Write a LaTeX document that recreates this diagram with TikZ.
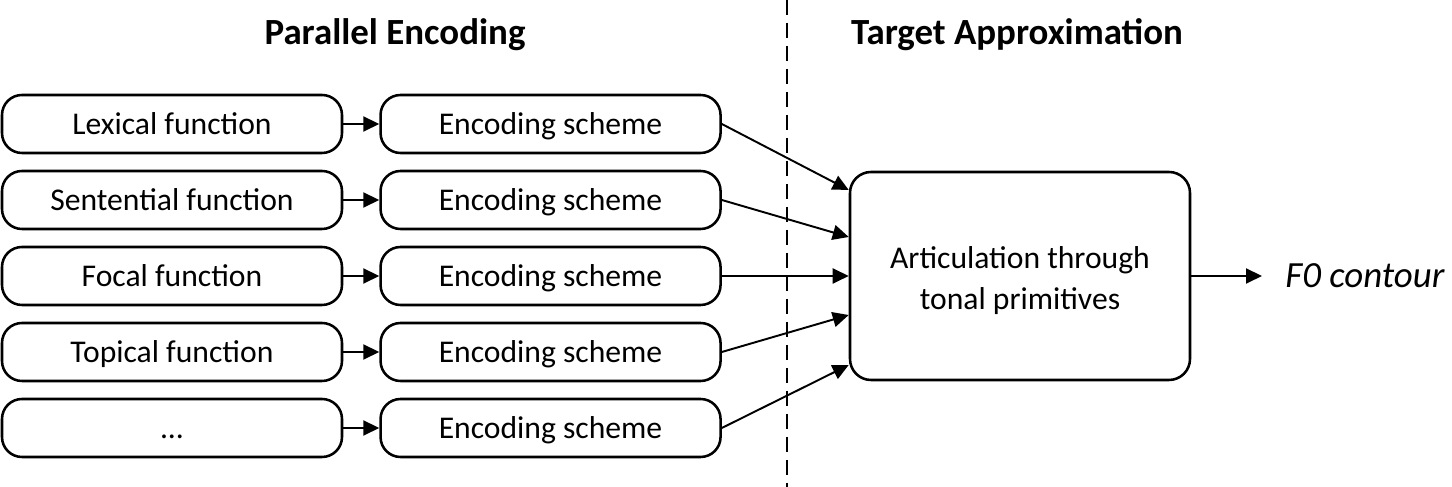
\documentclass[tikz,border=0pt]{standalone}
\usepackage{fontspec}
\setmainfont{Carlito}
\usepackage{tikz}
\usetikzlibrary{
  arrows.meta,
  positioning,
  calc
}
\tikzset{
  funcbox/.style={
    draw=black,
    fill=white,
    rounded corners=0.4cm,
    line width=1.45pt,
    align=center,
    font=\fontsize{18}{22}\selectfont,
    minimum width=6.8cm,
    minimum height=1.16cm,
    text height=0.44cm,
    text depth=0pt,
    inner sep=0pt
  },
  artbox/.style={
    draw=black,
    fill=white,
    rounded corners=0.42cm,
    line width=1.45pt,
    align=center,
    font=\fontsize{18}{22.8}\selectfont,
    minimum width=6.8cm,
    minimum height=4.16cm,
    inner sep=0pt
  },
  flowarrow/.style={
    -{Triangle[length=0.32cm,width=0.3cm]},
    line width=1.1pt,
    black
  },
  headtitle/.style={font=\fontsize{21}{25}\selectfont\bfseries}
}

\begin{document}
\begin{tikzpicture}
  \useasboundingbox (0,0) rectangle (29.04,9.74);

  % Titel
  \node[headtitle] (ttlpar) at (7.9,9.05) {Parallel Encoding};
  \node[headtitle] (ttltar) at (20.34,9.05) {Target Approximation};

  % Trennlinie
  \coordinate (divtop) at (15.74,9.74);
  \coordinate (divbot) at (15.74,0);
  \draw[line width=1pt, dash pattern=on 0.3cm off 0.16cm] (divtop) -- (divbot);

  % Funktionen
  \node[funcbox] (lex) at (3.44,7.26) {Lexical function};
  \node[funcbox] (sen) at (3.44,5.74) {Sentential function};
  \node[funcbox] (foc) at (3.44,4.22) {Focal function};
  \node[funcbox] (top) at (3.44,2.70) {Topical function};
  \node[funcbox] (etc) at (3.44,1.18) {...};

  % Kodierung
  \foreach \n in {lex,sen,foc,top,etc} {
    \node[funcbox, right=0.72cm of \n] (enc\n) {Encoding scheme};
    \draw[flowarrow] (\n) -- (enc\n);
  }

  \node[artbox] (art) at (20.4,4.22)
    {\raisebox{-0.1cm}[\height][\depth]{\begin{tabular}{@{}c@{}}Articulation through\\tonal primitives\end{tabular}}};

  \draw[flowarrow] (enclex.east) -- ([yshift=1.72cm]art.west);
  \draw[flowarrow] (encsen.east) -- ([yshift=0.78cm]art.west);
  \draw[flowarrow] (encfoc.east) -- (art.west);
  \draw[flowarrow] (enctop.east) -- ([yshift=-0.78cm]art.west);
  \draw[flowarrow] (encetc.east) -- ([yshift=-1.78cm]art.west);

  \node[anchor=west, inner xsep=0.46cm, inner ysep=0pt, font=\fontsize{21}{25}\selectfont\itshape]
    (fnull) at (25.24,4.22) {F0 contour};
  \draw[flowarrow] (art) -- (fnull);
\end{tikzpicture}
\end{document}
